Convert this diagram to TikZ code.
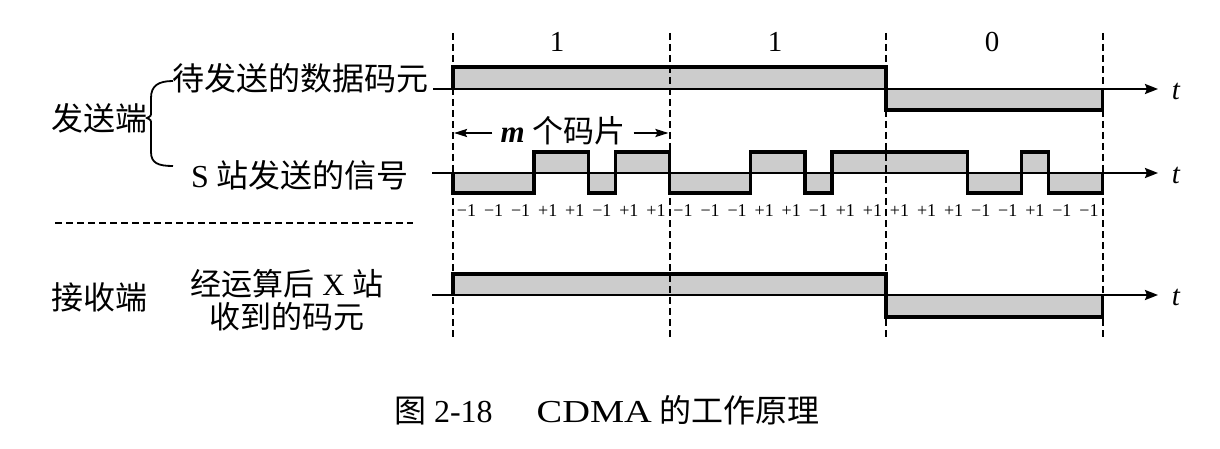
\documentclass[tikz,border=0pt]{standalone}
\usepackage{fontspec}
\setmainfont{Liberation Serif}
\newfontfamily\cjk{Noto Sans CJK SC}
\usetikzlibrary{arrows.meta}
\begin{document}
\begin{tikzpicture}[x=1pt,y=-1pt,
  wave/.style={line width=3.4pt, line join=miter},
  axisline/.style={line width=2.3pt,-{Stealth[length=13pt,width=10pt,inset=2pt]}},
  marrow/.style={line width=2.2pt,-{Stealth[length=13pt,width=8pt,inset=2pt]}},
  guide/.style={line width=2pt,dash pattern=on 7pt off 4pt},
  lbl/.style={font=\fontsize{32}{33}\selectfont, inner sep=0pt},
  chip/.style={font=\fontsize{18}{20}\selectfont, inner sep=0pt},
  bitlbl/.style={font=\fontsize{29}{30}\selectfont, inner sep=0pt},
  tlbl/.style={font=\fontsize{29}{30}\selectfont\itshape, inner sep=0pt},
  shade/.style={fill=black!20}]
\useasboundingbox (0,0) rectangle (1220,449);

% ---- fills ----
\fill[shade] (453,89) -- (453,67) -- (886,67) -- (886,110) -- (1102.5,110) -- (1102.5,89) -- cycle;
\fill[shade] (453,173) -- (453,193) -- (534.19,193) -- (534.19,152) -- (588.31,152) -- (588.31,193) -- (615.38,193) -- (615.38,152) -- (669.5,152) -- (669.5,193) -- (750.69,193) -- (750.69,152) -- (804.81,152) -- (804.81,193) -- (831.88,193) -- (831.88,152) -- (967.19,152) -- (967.19,193) -- (1021.31,193) -- (1021.31,152) -- (1048.38,152) -- (1048.38,193) -- (1102.5,193) -- (1102.5,173) -- cycle;
\fill[shade] (453,295) -- (453,274) -- (886,274) -- (886,317) -- (1102.5,317) -- (1102.5,295) -- cycle;

% ---- vertical dashed guides ----
\foreach \x/\n in {453/g0,669.5/g1,886/g2,1102.5/g3}{
  \coordinate (\n t) at (\x,33);
  \coordinate (\n b) at (\x,340);
  \draw[guide] (\n t) -- (\n b);
}

% ---- axes ----
\coordinate (a1s) at (433,89);  \coordinate (a1e) at (1158,89);
\coordinate (a2s) at (432,173); \coordinate (a2e) at (1158,173);
\coordinate (a3s) at (432,295); \coordinate (a3e) at (1158,295);
\draw[axisline] (a1s) -- (a1e);
\draw[axisline] (a2s) -- (a2e);
\draw[axisline] (a3s) -- (a3e);
\node[tlbl] (t1) at (1176,91) {t};
\node[tlbl] (t2) at (1176,175) {t};
\node[tlbl] (t3) at (1176,297) {t};

% ---- waveforms ----
\draw[wave] (453,89) -- (453,67) -- (886,67) -- (886,110) -- (1102.5,110) -- (1102.5,89);
\draw[wave] (453,173) -- (453,193) -- (534.19,193) -- (534.19,152) -- (588.31,152) -- (588.31,193) -- (615.38,193) -- (615.38,152) -- (669.5,152) -- (669.5,193) -- (750.69,193) -- (750.69,152) -- (804.81,152) -- (804.81,193) -- (831.88,193) -- (831.88,152) -- (967.19,152) -- (967.19,193) -- (1021.31,193) -- (1021.31,152) -- (1048.38,152) -- (1048.38,193) -- (1102.5,193) -- (1102.5,173);
\draw[wave] (453,295) -- (453,274) -- (886,274) -- (886,317) -- (1102.5,317) -- (1102.5,295);

% ---- bit labels ----
\node[bitlbl] (b1) at (557,42) {1};
\node[bitlbl] (b2) at (775,42) {1};
\node[bitlbl] (b3) at (992,42) {0};

% ---- chip labels ----
\foreach \v [count=\i] in {−1,−1,−1,+1,+1,−1,+1,+1,−1,−1,−1,+1,+1,−1,+1,+1,+1,+1,+1,−1,−1,+1,−1,−1}{
  \node[chip] (c\i) at ({453+(\i-0.5)*27.0625},211) {\v};
}

% ---- m chips arrow ----
\node[font=\fontsize{31}{32}\selectfont, inner sep=8pt] (mlbl) at (563,131) {\textbf{\textit{m}} {\cjk 个码片}};
\coordinate (ml) at (454,133);
\coordinate (mr) at (668.5,133);
\draw[marrow] (mlbl.west |- ml) -- (ml);
\draw[marrow] (mlbl.east |- mr) -- (mr);

% ---- left labels ----
\node[lbl] (send) at (99,118) {\cjk 发送端};
\node[lbl] (data) at (300,78) {\cjk 待发送的数据码元};
\node[lbl] (ssig) at (300,175) {S {\cjk 站发送的信号}};
\node[lbl] (recv) at (99,297) {\cjk 接收端};
\node[lbl, align=center, font=\fontsize{31}{33}\selectfont] (xrec) at (287,300) {{\cjk 经运算后} X {\cjk 站}\\{\cjk 收到的码元}};

% ---- brace ----
\draw[line width=1.8pt] (173,81) .. controls (158,81) and (151,86) .. (151,98) -- (151,112) .. controls (151,116) .. (147,118) .. controls (151,120) .. (151,124) -- (151,152) .. controls (151,163) and (158,166) .. (173,166);

% ---- separator ----
\coordinate (sepl) at (55,223);
\coordinate (sepr) at (413,223);
\draw[guide] (sepl) -- (sepr);

% ---- caption ----
\node[font=\fontsize{32}{34}\selectfont, inner sep=0pt] (cap) at (607,410) {{\cjk 图} 2-18\hspace{44pt}\scalebox{1.2}[1]{CDMA} {\cjk 的工作原理}};
\end{tikzpicture}
\end{document}
